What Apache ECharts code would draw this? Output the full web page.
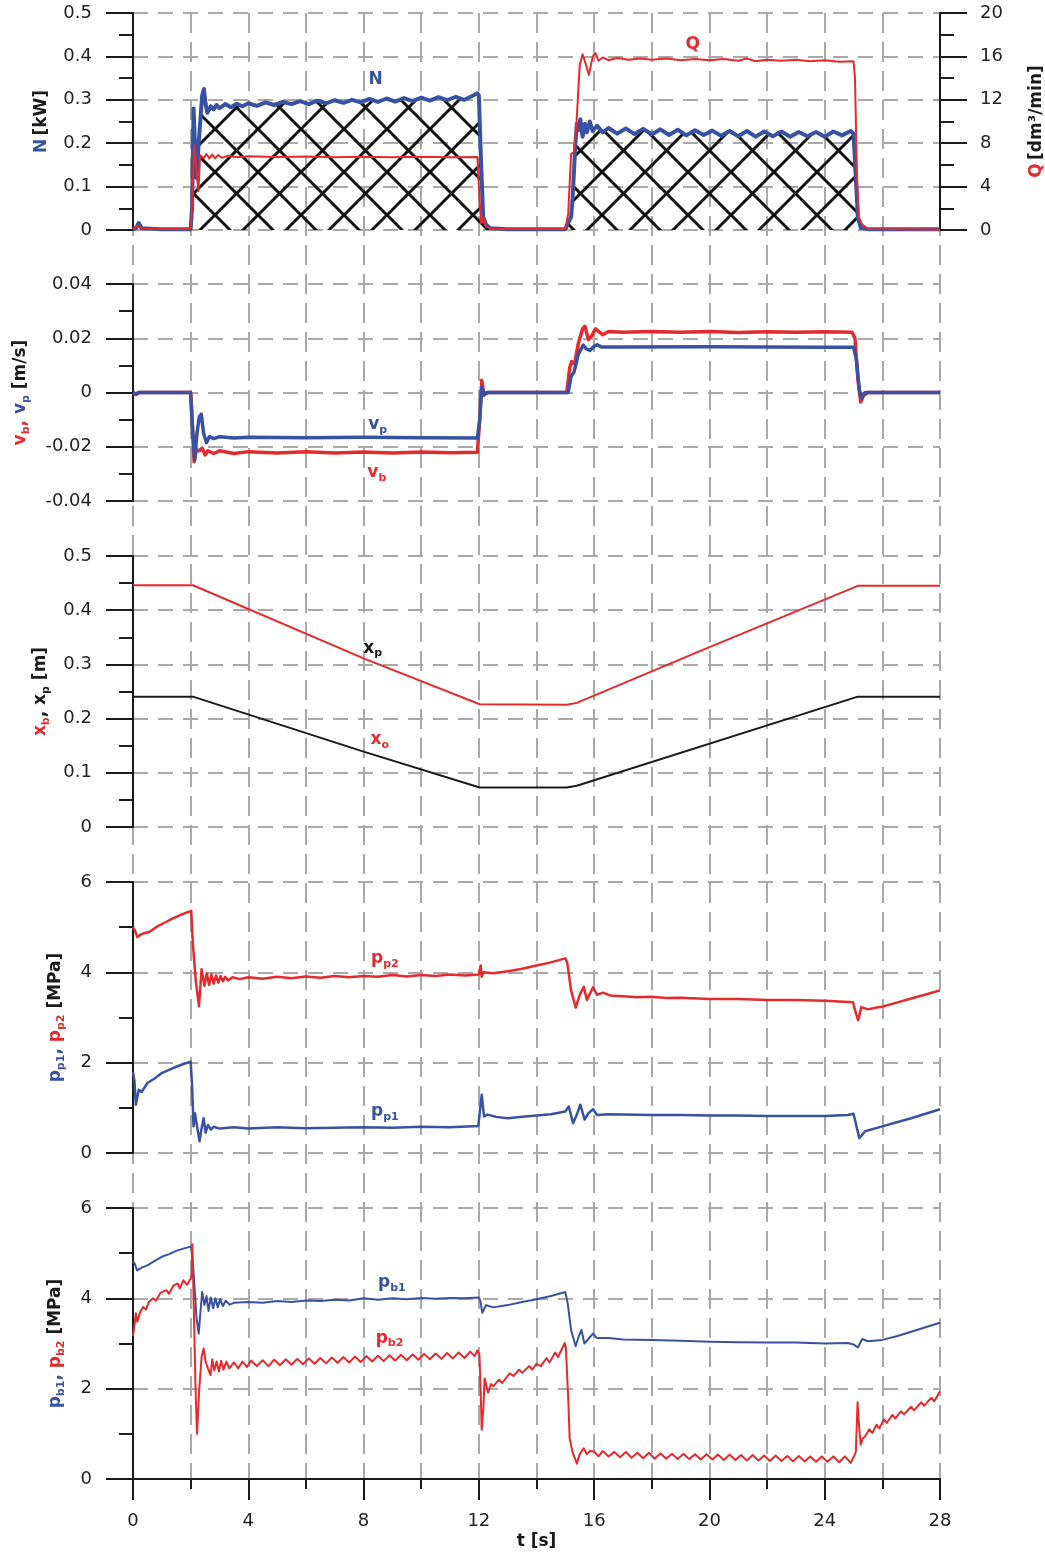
<!DOCTYPE html>
<html>
<head>
<meta charset="utf-8">
<script src="https://cdn.jsdelivr.net/npm/echarts@6/dist/echarts.min.js"></script>
<style>
html, body { margin: 0; padding: 0; background: #fff; }
#chart { width: 1045px; height: 1555px; }
</style>
</head>
<body>
<div id="chart"></div>
<script>
// time axis [s]
const tTicks = [0, 4, 8, 12, 16, 20, 24, 28]

// panel 1: power N [kW] and flow Q [dm3/min]
const seriesN = [[0,0.002],[0.1,0.004],[0.2,0.016],[0.3,0.004],[0.6,0.003],[1.0,0.002],[2.0,0.002],[2.05,0.05],[2.1,0.28],[2.15,0.2],[2.2,0.12],[2.3,0.22],[2.4,0.31],[2.46,0.325],[2.52,0.29],[2.58,0.27],[2.7,0.285],[2.8,0.278],[2.9,0.288],[3.0,0.281],[3.2,0.29],[3.4,0.283],[3.6,0.291],[3.8,0.285],[4.0,0.292],[4.3,0.286],[4.6,0.294],[4.9,0.288],[5.2,0.295],[5.5,0.29],[5.8,0.297],[6.1,0.29],[6.4,0.298],[6.7,0.292],[7.0,0.299],[7.3,0.293],[7.6,0.3],[7.9,0.294],[8.2,0.302],[8.5,0.295],[8.8,0.303],[9.1,0.296],[9.4,0.304],[9.7,0.297],[10.0,0.305],[10.3,0.298],[10.6,0.306],[10.9,0.299],[11.2,0.307],[11.5,0.3],[11.8,0.31],[11.95,0.315],[12.0,0.31],[12.08,0.15],[12.15,0.03],[12.25,0.012],[12.4,0.004],[13,0.002],[15.0,0.002],[15.2,0.03],[15.25,0.07],[15.35,0.2],[15.4,0.245],[15.45,0.23],[15.52,0.255],[15.6,0.215],[15.68,0.245],[15.75,0.225],[15.85,0.25],[15.95,0.228],[16.1,0.24],[16.3,0.225],[16.5,0.235],[16.8,0.222],[17.1,0.234],[17.4,0.221],[17.7,0.233],[18.0,0.22],[18.3,0.232],[18.6,0.219],[18.9,0.231],[19.2,0.218],[19.5,0.23],[19.8,0.219],[20.1,0.229],[20.4,0.217],[20.7,0.228],[21.0,0.216],[21.3,0.228],[21.6,0.215],[21.9,0.227],[22.2,0.216],[22.5,0.227],[22.8,0.215],[23.1,0.226],[23.4,0.216],[23.7,0.226],[24.0,0.215],[24.3,0.227],[24.6,0.218],[24.9,0.228],[25.0,0.222],[25.08,0.12],[25.15,0.03],[25.25,0.005],[25.5,0.002],[28,0.002]]
const seriesQ = [[0,0.1],[0.15,0.4],[0.3,0.15],[1,0.1],[2.0,0.1],[2.05,2],[2.12,7.8],[2.2,5.5],[2.27,3.6],[2.33,6.9],[2.45,6.6],[2.55,7.0],[2.65,6.6],[2.75,6.95],[2.85,6.6],[2.95,6.9],[3.1,6.65],[3.3,6.85],[3.6,6.7],[4,6.8],[5,6.72],[6,6.78],[7,6.7],[8,6.75],[9,6.7],[10,6.74],[11,6.7],[11.95,6.72],[12.02,3],[12.08,0.6],[12.15,1.2],[12.25,0.3],[12.5,0.1],[15.0,0.1],[15.1,1.5],[15.2,7.0],[15.3,7.2],[15.38,9.5],[15.5,15.2],[15.6,16.2],[15.72,15.2],[15.82,14.3],[15.95,16.0],[16.05,16.3],[16.15,15.6],[16.3,15.9],[16.5,15.65],[16.8,15.85],[17.2,15.7],[17.6,15.8],[18,15.7],[18.5,15.8],[19,15.65],[19.5,15.75],[20,15.65],[20.5,15.75],[21,15.6],[21.3,15.8],[21.6,15.55],[22,15.7],[22.5,15.6],[23,15.7],[23.5,15.55],[24,15.65],[24.5,15.5],[25.0,15.55],[25.05,14],[25.12,5],[25.18,1.2],[25.3,0.5],[25.5,0.1],[28,0.05]]

// panel 2: velocities [m/s]
const seriesVb = [[0,0],[0.1,-0.0008],[0.2,0],[2.0,0],[2.05,-0.01],[2.12,-0.0255],[2.2,-0.021],[2.3,-0.0215],[2.4,-0.0205],[2.5,-0.023],[2.6,-0.0215],[2.8,-0.0225],[3.0,-0.0215],[3.5,-0.0225],[4,-0.0218],[5,-0.0223],[6,-0.0218],[7,-0.0223],[8,-0.0219],[9,-0.0223],[10,-0.0219],[11,-0.0222],[11.95,-0.022],[12.03,-0.01],[12.1,0.0045],[12.18,-0.001],[12.3,0],[15.05,0],[15.15,0.009],[15.22,0.0114],[15.32,0.0105],[15.45,0.018],[15.6,0.0235],[15.68,0.0244],[15.8,0.0195],[15.92,0.021],[16.05,0.0235],[16.15,0.0225],[16.3,0.0213],[16.5,0.0225],[17,0.0222],[18,0.0225],[19,0.0222],[20,0.0225],[21,0.0221],[22,0.0224],[23,0.0222],[24,0.0224],[24.95,0.0222],[25.05,0.02],[25.15,0.005],[25.25,-0.0035],[25.35,-0.001],[25.5,0],[28,0]]
const seriesVp = [[0,0],[0.1,-0.0006],[0.2,0],[2.0,0],[2.06,-0.012],[2.14,-0.0248],[2.22,-0.015],[2.3,-0.009],[2.37,-0.008],[2.45,-0.015],[2.55,-0.0185],[2.65,-0.0163],[2.8,-0.017],[3.0,-0.0163],[3.5,-0.0168],[4,-0.0165],[6,-0.0167],[8,-0.0165],[10,-0.0167],[11.95,-0.0168],[12.03,-0.01],[12.1,0.002],[12.18,-0.0005],[12.3,0],[15.1,0],[15.2,0.006],[15.3,0.0075],[15.45,0.014],[15.62,0.0175],[15.72,0.0162],[15.85,0.0155],[16.0,0.017],[16.1,0.0176],[16.25,0.0168],[17,0.0168],[20,0.0169],[24,0.0167],[25.0,0.0167],[25.1,0.012],[25.2,0.001],[25.27,-0.002],[25.4,0],[28,0]]

// panel 3: displacements [m]
const seriesXb = [[0,0.446],[2.08,0.446],[8,0.311],[12.03,0.2264],[15.05,0.2255],[15.4,0.229],[20,0.332],[25.15,0.445],[28,0.445]]
const seriesXo = [[0,0.2405],[2.08,0.2405],[8,0.139],[12.03,0.073],[15.05,0.073],[15.4,0.076],[25.15,0.2405],[28,0.2405]]

// panel 4: pressures pp1, pp2 [MPa]
const seriesPp2 = [[0,5.0],[0.08,4.9],[0.15,4.78],[0.3,4.85],[0.58,4.9],[0.8,5.0],[1.16,5.12],[1.4,5.2],[1.62,5.26],[1.85,5.32],[2.02,5.36],[2.08,4.6],[2.18,3.8],[2.29,3.25],[2.38,4.07],[2.48,3.7],[2.56,3.98],[2.64,3.72],[2.72,3.95],[2.8,3.75],[2.88,3.93],[2.96,3.77],[3.04,3.92],[3.12,3.8],[3.2,3.9],[3.3,3.82],[3.45,3.89],[3.7,3.85],[4,3.89],[4.5,3.86],[5,3.9],[5.5,3.87],[6,3.91],[6.5,3.88],[7,3.92],[7.5,3.89],[8,3.92],[8.5,3.9],[9,3.94],[9.5,3.91],[10,3.94],[10.5,3.92],[11,3.95],[11.5,3.93],[12.0,3.95],[12.06,4.15],[12.1,3.9],[12.15,4.0],[12.5,3.98],[13.07,4.03],[13.5,4.08],[14,4.15],[14.5,4.22],[15.0,4.31],[15.07,4.2],[15.2,3.6],[15.36,3.22],[15.5,3.5],[15.64,3.68],[15.75,3.39],[15.96,3.67],[16.1,3.5],[16.3,3.55],[16.6,3.48],[17,3.47],[17.5,3.45],[18,3.46],[18.5,3.43],[19,3.44],[20,3.41],[21,3.41],[22,3.39],[23,3.39],[24,3.37],[24.98,3.34],[25.08,3.1],[25.16,2.94],[25.27,3.23],[25.5,3.18],[25.8,3.22],[26,3.24],[26.5,3.33],[27,3.42],[27.5,3.51],[28,3.6]]
const seriesPp1 = [[0,1.79],[0.05,1.6],[0.1,1.07],[0.2,1.4],[0.3,1.35],[0.5,1.55],[0.75,1.65],[1.0,1.77],[1.25,1.84],[1.5,1.91],[1.75,1.97],[2.0,2.02],[2.05,1.5],[2.1,0.59],[2.15,0.88],[2.22,0.6],[2.31,0.26],[2.38,0.55],[2.45,0.77],[2.52,0.45],[2.6,0.62],[2.7,0.52],[2.8,0.58],[3,0.54],[3.5,0.57],[4,0.54],[5,0.57],[6,0.55],[7,0.56],[8,0.57],[9,0.56],[10,0.58],[11,0.57],[11.98,0.6],[12.05,1.0],[12.1,1.29],[12.18,0.81],[12.3,0.85],[12.6,0.8],[13,0.77],[13.5,0.8],[14,0.83],[14.5,0.86],[15.0,0.92],[15.12,1.03],[15.27,0.66],[15.4,0.85],[15.52,1.07],[15.67,0.74],[15.8,0.88],[15.96,0.97],[16.1,0.84],[16.5,0.86],[17,0.85],[18,0.84],[19,0.84],[20,0.83],[21,0.83],[22,0.82],[23,0.82],[24,0.82],[24.8,0.84],[25.0,0.87],[25.1,0.6],[25.2,0.33],[25.3,0.4],[25.4,0.48],[26,0.59],[26.5,0.68],[27,0.77],[27.5,0.87],[28,0.97]]

// panel 5: pressures pb1, pb2 [MPa]
const seriesPb1 = [[0,4.83],[0.07,4.75],[0.14,4.62],[0.3,4.68],[0.5,4.73],[0.75,4.83],[1.0,4.92],[1.25,4.98],[1.5,5.05],[1.75,5.1],[2.02,5.15],[2.1,4.6],[2.2,3.6],[2.28,3.22],[2.34,3.7],[2.4,4.14],[2.48,3.85],[2.55,4.05],[2.62,3.72],[2.7,4.02],[2.78,3.78],[2.86,4.0],[2.94,3.8],[3.02,3.98],[3.12,3.83],[3.22,3.95],[3.35,3.86],[3.5,3.9],[4,3.92],[4.5,3.9],[5,3.94],[5.5,3.92],[6,3.95],[6.5,3.94],[7,3.97],[7.5,3.95],[8,4.0],[8.5,3.97],[9,4.0],[9.5,3.98],[10,4.01],[10.5,3.99],[11,4.01],[11.5,4.0],[12.0,4.02],[12.05,3.95],[12.12,3.68],[12.25,3.85],[12.5,3.8],[13,3.85],[13.5,3.92],[14,3.98],[14.5,4.05],[15.0,4.14],[15.08,3.9],[15.2,3.3],[15.36,2.94],[15.46,3.15],[15.56,3.3],[15.66,3.0],[15.8,3.1],[15.96,3.22],[16.1,3.12],[16.5,3.12],[17,3.09],[18,3.08],[19,3.06],[20,3.04],[21,3.03],[22,3.02],[23,3.02],[24,3.0],[24.8,3.01],[25.0,2.98],[25.15,2.91],[25.3,3.1],[25.5,3.05],[26,3.08],[26.5,3.16],[27,3.26],[27.5,3.36],[28,3.46]]
const seriesPb2 = [[0,3.17],[0.05,3.4],[0.1,3.67],[0.15,3.48],[0.25,3.7],[0.35,3.81],[0.45,3.75],[0.55,3.92],[0.69,4.0],[0.8,3.95],[0.95,4.12],[1.16,4.18],[1.25,4.1],[1.4,4.28],[1.55,4.33],[1.62,4.22],[1.75,4.4],[1.88,4.3],[2.0,4.44],[2.04,4.5],[2.06,5.2],[2.12,3.5],[2.17,2.0],[2.22,1.0],[2.3,2.0],[2.38,2.7],[2.45,2.89],[2.52,2.6],[2.6,2.45],[2.69,2.3],[2.75,2.65],[2.82,2.4],[2.9,2.6],[2.98,2.38],[3.06,2.62],[3.14,2.42],[3.24,2.6],[3.34,2.45],[3.5,2.58],[3.65,2.45],[3.8,2.6],[3.95,2.48],[4.1,2.62],[4.3,2.5],[4.5,2.63],[4.7,2.5],[4.9,2.64],[5.1,2.52],[5.3,2.65],[5.5,2.53],[5.7,2.66],[5.9,2.54],[6.1,2.67],[6.3,2.55],[6.5,2.68],[6.7,2.56],[6.9,2.69],[7.1,2.57],[7.3,2.7],[7.5,2.58],[7.7,2.71],[7.9,2.59],[8.1,2.72],[8.3,2.6],[8.5,2.73],[8.7,2.61],[8.9,2.74],[9.1,2.62],[9.3,2.75],[9.5,2.63],[9.7,2.76],[9.9,2.64],[10.1,2.77],[10.3,2.65],[10.5,2.78],[10.7,2.66],[10.9,2.79],[11.1,2.67],[11.3,2.8],[11.5,2.68],[11.7,2.82],[11.85,2.72],[11.95,2.85],[12.02,2.75],[12.06,2.0],[12.1,1.09],[12.16,1.6],[12.2,2.23],[12.32,1.91],[12.42,2.1],[12.5,2.05],[12.7,2.2],[12.8,2.12],[13.07,2.34],[13.2,2.28],[13.4,2.42],[13.5,2.35],[13.75,2.5],[13.85,2.42],[14.0,2.55],[14.15,2.5],[14.35,2.68],[14.45,2.58],[14.65,2.8],[14.75,2.7],[14.98,3.01],[15.02,2.9],[15.1,1.8],[15.15,0.9],[15.25,0.6],[15.4,0.34],[15.5,0.55],[15.64,0.68],[15.75,0.55],[15.85,0.62],[16.0,0.61],[16.15,0.5],[16.3,0.62],[16.5,0.5],[16.7,0.6],[16.9,0.48],[17.1,0.6],[17.3,0.47],[17.5,0.58],[17.7,0.46],[17.9,0.58],[18.1,0.45],[18.3,0.57],[18.5,0.45],[18.7,0.56],[18.9,0.44],[19.1,0.56],[19.3,0.44],[19.5,0.55],[19.7,0.43],[19.9,0.55],[20.1,0.43],[20.3,0.54],[20.5,0.42],[20.7,0.54],[20.9,0.42],[21.1,0.53],[21.3,0.41],[21.5,0.53],[21.7,0.41],[21.9,0.52],[22.1,0.4],[22.3,0.52],[22.5,0.4],[22.7,0.51],[22.9,0.39],[23.1,0.51],[23.3,0.39],[23.5,0.5],[23.7,0.38],[23.9,0.5],[24.1,0.38],[24.3,0.5],[24.5,0.37],[24.7,0.5],[24.9,0.36],[25.0,0.48],[25.08,0.6],[25.14,1.7],[25.2,1.1],[25.25,0.76],[25.32,0.9],[25.4,0.94],[25.55,1.1],[25.65,1.02],[25.8,1.2],[25.9,1.12],[26.05,1.32],[26.15,1.24],[26.35,1.42],[26.45,1.34],[26.65,1.5],[26.75,1.43],[27,1.6],[27.1,1.52],[27.35,1.7],[27.45,1.62],[27.7,1.8],[27.8,1.72],[28,1.94]]

// curve labels [t, value]
const labelN = [8.42, 0.346]
const labelQ = [19.42, 17.05]
const labelVp = [8.49, -0.012]
const labelVb = [8.46, -0.0297]
const labelXp = [8.32, 0.33]
const labelXo = [8.56, 0.161]
const labelPp2 = [8.74, 4.31]
const labelPp1 = [8.74, 0.91]
const labelPb1 = [8.98, 4.34]
const labelPb2 = [8.9, 3.12]

const RED = '#e52a2d'
const BLUE = '#3852a3'
const INK = '#1a1a1a'
const GRIDC = '#a9a9a9'
const FONT = 'DejaVu Sans, Liberation Sans, sans-serif'

const big = c => ({ color: c, fontWeight: 'bold', fontSize: 17, fontFamily: FONT, lineHeight: 22 })
const sub = c => ({ color: c, fontWeight: 'bold', fontSize: 11, fontFamily: FONT, lineHeight: 13, verticalAlign: 'bottom' })
const rich = {
    r: big(RED), rs: sub(RED),
    b: big(BLUE), bs: sub(BLUE),
    k: big(INK), ks: sub(INK)
}

// cross-hatch tile
const hatch = document.createElement('canvas')
hatch.width = 43
hatch.height = 43
const hc = hatch.getContext('2d')
hc.strokeStyle = '#111'
hc.lineWidth = 3
for (const o of [-43, 0, 43]) {
    hc.beginPath(); hc.moveTo(o, 0); hc.lineTo(o + 43, 43); hc.stroke()
    hc.beginPath(); hc.moveTo(o + 43, 0); hc.lineTo(o, 43); hc.stroke()
}

const grids = [
    { top: 13, height: 217 },
    { top: 284, height: 217 },
    { top: 556, height: 271 },
    { top: 882, height: 271 },
    { top: 1208, height: 271 },
    { top: 13, height: 1466 }
].map(g => ({ left: 133, right: 105, outerBoundsMode: 'none', containLabel: false, ...g }))

const tickStyle = { color: INK, width: 2 }
const tickLabel = { fontSize: 18, color: '#222', fontFamily: FONT }

function yAx(gridIndex, min, max, interval, name, nameGap, extra) {
    return {
        type: 'value', gridIndex, min, max, interval,
        axisLine: { show: true, lineStyle: tickStyle },
        axisTick: { show: true, inside: false, length: 27, lineStyle: tickStyle },
        minorTick: { show: true, splitNumber: 2, length: 14, lineStyle: tickStyle },
        axisLabel: { margin: 41, ...tickLabel },
        splitLine: { show: true, lineStyle: { color: GRIDC, width: 2, type: [15, 10] } },
        minorSplitLine: { show: false },
        name, nameLocation: 'middle', nameRotate: 90, nameGap,
        nameTextStyle: { rich },
        ...extra
    }
}

function xAx(gridIndex) {
    return {
        type: 'value', gridIndex, min: 0, max: 28, interval: 4,
        axisLine: { show: false }, axisTick: { show: false },
        axisLabel: { show: false }, splitLine: { show: false }
    }
}

const xAxes = [0, 1, 2, 3].map(xAx)
xAxes.push({
    type: 'value', gridIndex: 4, min: tTicks[0], max: tTicks[tTicks.length - 1], interval: 4,
    axisLine: { show: true, onZero: false, lineStyle: tickStyle },
    axisTick: { show: true, length: 21, lineStyle: tickStyle },
    minorTick: { show: true, splitNumber: 2, length: 10, lineStyle: tickStyle },
    axisLabel: { margin: 33, ...tickLabel },
    splitLine: { show: false },
    name: 't [s]', nameLocation: 'middle', nameGap: 54,
    nameTextStyle: { fontWeight: 'bold', fontSize: 17, color: INK, fontFamily: FONT }
})
xAxes.push({
    type: 'value', gridIndex: 5, min: 0, max: 28, interval: 2,
    axisLine: { show: false }, axisTick: { show: false }, axisLabel: { show: false },
    splitLine: { show: true, lineStyle: { color: GRIDC, width: 2, type: [20, 9] } }
})

const yAxes = [
    yAx(0, 0, 0.5, 0.1, '{b|N} {k|[kW]}', 80),
    yAx(0, 0, 20, 4, '{r|Q} {k|[dm³/min]}', 86, {
        position: 'right',
        axisLabel: { margin: 40, ...tickLabel },
        splitLine: { show: false }
    }),
    yAx(1, -0.04, 0.04, 0.02, '{r|v}{rs|b}{r|, }{b|v}{bs|p}{k| [m/s]}', 101),
    yAx(2, 0, 0.5, 0.1, '{r|x}{rs|b}{k|, x}{ks|p}{k| [m]}', 81),
    yAx(3, 0, 6, 2, '{b|p}{bs|p1}{b|, }{r|p}{rs|p2}{k| [MPa]}', 66),
    yAx(4, 0, 6, 2, '{b|p}{bs|b1}{b|, }{r|p}{rs|b2}{k| [MPa]}', 66),
    { type: 'value', gridIndex: 5, min: 0, max: 1, show: false }
]

function mark(coord, text) {
    return {
        silent: true, symbol: 'circle', symbolSize: 1,
        itemStyle: { color: 'rgba(0,0,0,0)' },
        label: { show: true, position: 'inside', formatter: text, rich },
        data: [{ coord }]
    }
}

function line(name, data, xi, yi, color, width, extra) {
    return {
        name, type: 'line', data, xAxisIndex: xi, yAxisIndex: yi,
        showSymbol: false, symbol: 'none', animation: false,
        lineStyle: { color, width, join: 'round' },
        ...extra
    }
}

const series = [
    line('N', seriesN, 0, 0, BLUE, 4, {
        areaStyle: { color: { image: hatch, repeat: 'repeat' }, opacity: 1 },
        markPoint: mark(labelN, '{b|N}'), z: 2
    }),
    line('Q', seriesQ, 0, 1, RED, 2, { markPoint: mark(labelQ, '{r|Q}'), z: 3 }),
    line('vb', seriesVb, 1, 2, RED, 3.5, { markPoint: mark(labelVb, '{r|v}{rs|b}') }),
    line('vp', seriesVp, 1, 2, BLUE, 3.5, { markPoint: mark(labelVp, '{b|v}{bs|p}') }),
    line('xb', seriesXb, 2, 3, RED, 2, { markPoint: mark(labelXp, '{k|x}{ks|p}') }),
    line('xo', seriesXo, 2, 3, INK, 2, { markPoint: mark(labelXo, '{r|x}{rs|o}') }),
    line('pp2', seriesPp2, 3, 4, RED, 2.5, { markPoint: mark(labelPp2, '{r|p}{rs|p2}') }),
    line('pp1', seriesPp1, 3, 4, BLUE, 2.5, { markPoint: mark(labelPp1, '{b|p}{bs|p1}') }),
    line('pb1', seriesPb1, 4, 5, BLUE, 2, { markPoint: mark(labelPb1, '{b|p}{bs|b1}') }),
    line('pb2', seriesPb2, 4, 5, RED, 2, { markPoint: mark(labelPb2, '{r|p}{rs|b2}') })
]

const chart = echarts.init(document.getElementById('chart'), null, { renderer: 'canvas' })
chart.setOption({
    backgroundColor: '#fff',
    animation: false,
    grid: grids,
    xAxis: xAxes,
    yAxis: yAxes,
    series
})
</script>
</body>
</html>
